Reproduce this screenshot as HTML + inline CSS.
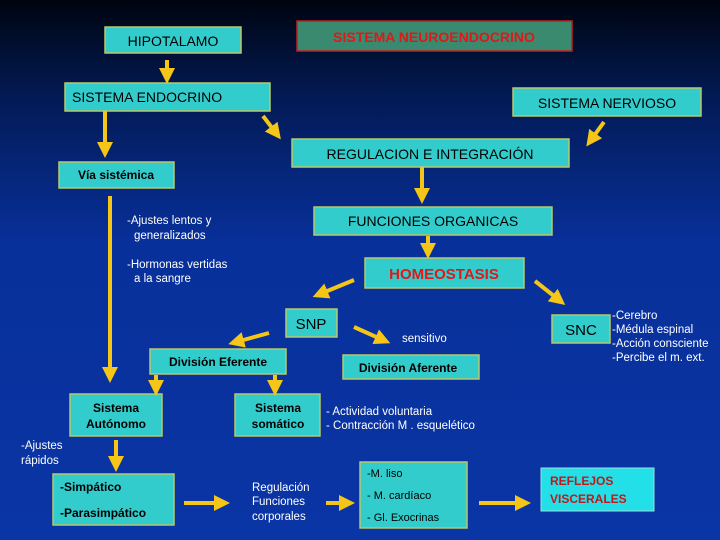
<!DOCTYPE html>
<html><head><meta charset="utf-8"><style>
html,body{margin:0;padding:0;width:720px;height:540px;overflow:hidden}
svg{display:block}
text{font-family:"Liberation Sans",sans-serif;fill:#000}
</style></head><body>
<svg width="720" height="540" viewBox="0 0 720 540" xmlns="http://www.w3.org/2000/svg">
<defs>
<linearGradient id="bg" x1="0" y1="0" x2="0" y2="1">
<stop offset="0" stop-color="#00040f"/><stop offset="0.18" stop-color="#021a55"/><stop offset="0.45" stop-color="#08309a"/><stop offset="1" stop-color="#0a35a5"/>
</linearGradient>
<marker id="ah" markerWidth="4" markerHeight="4" refX="2" refY="2" orient="auto" markerUnits="strokeWidth">
<path d="M0,0 L4,2 L0,4 z" fill="#f5c518"/></marker>
</defs>
<rect width="720" height="540" fill="url(#bg)"/>
<g fill="#33cccc" stroke="#b8c868" stroke-width="1.5">
<rect x="105" y="27" width="136" height="26"/>
<rect x="65" y="83" width="205" height="28"/>
<rect x="513" y="88" width="188" height="28"/>
<rect x="292" y="139" width="277" height="28"/>
<rect x="59" y="162" width="115" height="26"/>
<rect x="314" y="207" width="238" height="28"/>
<rect x="365" y="258" width="159" height="30"/>
<rect x="286" y="309" width="51" height="28"/>
<rect x="552" y="315" width="58" height="28"/>
<rect x="150" y="349" width="136" height="25"/>
<rect x="343" y="355" width="136" height="24"/>
<rect x="70" y="394" width="92" height="42"/>
<rect x="235" y="394" width="85" height="42"/>
<rect x="53" y="474" width="121" height="51"/>
<rect x="360" y="462" width="107" height="66"/>
</g>
<rect x="297" y="21" width="275" height="30" fill="#3a8a70" stroke="#c02020" stroke-width="1.5"/>
<rect x="541" y="468" width="113" height="43" fill="#22dfe8" stroke="#9adfe0" stroke-width="1"/>
<g stroke="#f5c518" stroke-width="4" fill="none" marker-end="url(#ah)">
<line x1="167" y1="60" x2="167" y2="76"/>
<line x1="105" y1="111" x2="105" y2="150"/>
<line x1="263" y1="116" x2="276" y2="133"/>
<line x1="604" y1="122" x2="591" y2="140"/>
<line x1="422" y1="167" x2="422" y2="196"/>
<line x1="428" y1="236" x2="428" y2="251"/>
<line x1="110" y1="196" x2="110" y2="375"/>
<line x1="354" y1="280" x2="320" y2="294"/>
<line x1="535" y1="281" x2="559" y2="300"/>
<line x1="269" y1="333" x2="236" y2="342"/>
<line x1="354" y1="327" x2="383" y2="340"/>
<line x1="156" y1="375" x2="156" y2="388"/>
<line x1="275" y1="375" x2="275" y2="388"/>
<line x1="116" y1="440" x2="116" y2="464"/>
<line x1="184" y1="503" x2="222" y2="503"/>
<line x1="326" y1="503" x2="347" y2="503"/>
<line x1="479" y1="503" x2="523" y2="503"/>
</g>
<g font-size="15">
<text x="173" y="46" text-anchor="middle" font-size="14">HIPOTALAMO</text>
<text x="434" y="42" text-anchor="middle" font-size="14" font-weight="bold" style="fill:#e01818">SISTEMA NEUROENDOCRINO</text>
<text x="72" y="102" font-size="14">SISTEMA ENDOCRINO</text>
<text x="607" y="108" text-anchor="middle" font-size="14">SISTEMA NERVIOSO</text>
<text x="430" y="159" text-anchor="middle" font-size="14">REGULACION  E  INTEGRACIÓN</text>
<text x="116" y="179" text-anchor="middle" font-size="12" font-weight="bold">Vía sistémica</text>
<text x="433" y="226" text-anchor="middle" font-size="14">FUNCIONES ORGANICAS</text>
<text x="444" y="279" text-anchor="middle" font-size="15" font-weight="bold" style="fill:#e01818">HOMEOSTASIS</text>
<text x="311" y="329" text-anchor="middle" font-size="15">SNP</text>
<text x="581" y="335" text-anchor="middle" font-size="15">SNC</text>
<text x="218" y="366" text-anchor="middle" font-size="12" font-weight="bold">División Eferente</text>
<text x="408" y="372" text-anchor="middle" font-size="12" font-weight="bold">División Aferente</text>
<text x="116" y="412" text-anchor="middle" font-size="12" font-weight="bold">Sistema</text>
<text x="116" y="428" text-anchor="middle" font-size="12" font-weight="bold">Autónomo</text>
<text x="278" y="412" text-anchor="middle" font-size="12" font-weight="bold">Sistema</text>
<text x="278" y="428" text-anchor="middle" font-size="12" font-weight="bold">somático</text>
<text x="60" y="491" font-size="12" font-weight="bold">-Simpático</text>
<text x="60" y="517" font-size="12" font-weight="bold">-Parasimpático</text>
<text x="367" y="477" font-size="11">-M. liso</text>
<text x="367" y="499" font-size="11">- M. cardíaco</text>
<text x="367" y="521" font-size="11">- Gl. Exocrinas</text>
<text x="550" y="485" font-size="12" font-weight="bold" style="fill:#c01818">REFLEJOS</text>
<text x="550" y="503" font-size="12" font-weight="bold" style="fill:#c01818">VISCERALES</text>
</g>
<g font-size="11.5" style="fill:#fff">
<text x="127" y="224" style="fill:#fff">-Ajustes lentos y</text>
<text x="134" y="239" style="fill:#fff">generalizados</text>
<text x="127" y="268" style="fill:#fff">-Hormonas vertidas</text>
<text x="134" y="282" style="fill:#fff">a la sangre</text>
<text x="402" y="342" style="fill:#fff">sensitivo</text>
<text x="612" y="319" style="fill:#fff">-Cerebro</text>
<text x="612" y="333" style="fill:#fff">-Médula espinal</text>
<text x="612" y="347" style="fill:#fff">-Acción consciente</text>
<text x="612" y="361" style="fill:#fff">-Percibe el m. ext.</text>
<text x="326" y="415" style="fill:#fff">- Actividad voluntaria</text>
<text x="326" y="429" style="fill:#fff">- Contracción M . esquelético</text>
<text x="21" y="449" style="fill:#fff">-Ajustes</text>
<text x="21" y="464" style="fill:#fff">rápidos</text>
<text x="252" y="491" style="fill:#fff">Regulación</text>
<text x="252" y="505" style="fill:#fff">Funciones</text>
<text x="252" y="520" style="fill:#fff">corporales</text>
</g>
</svg>
</body></html>
